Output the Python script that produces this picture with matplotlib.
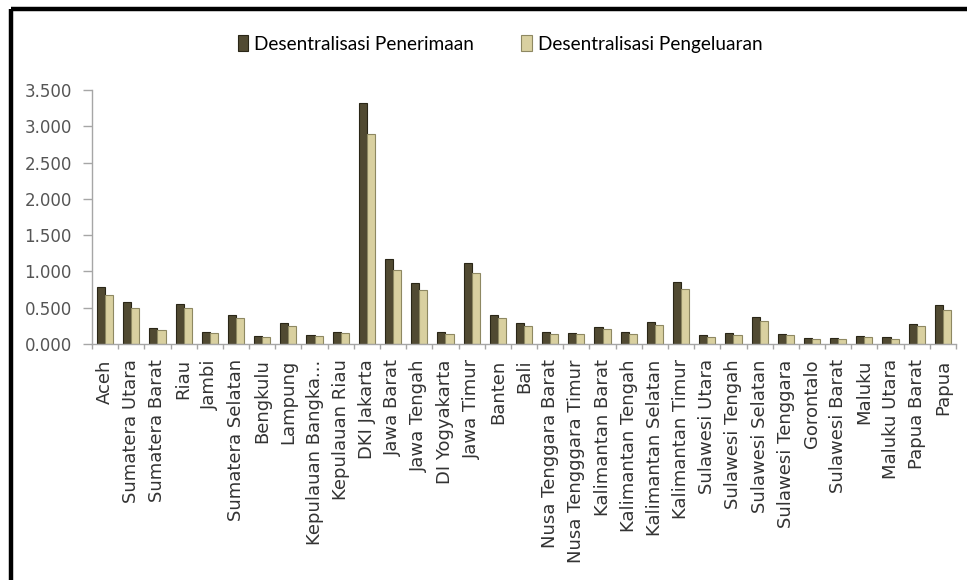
import numpy as np
import matplotlib.pyplot as plt
from matplotlib.lines import Line2D
from matplotlib.patches import Patch

# Data (values in thousands, shown as 0.000 .. 3.500)
provinces = [
    "Aceh", "Sumatera Utara", "Sumatera Barat", "Riau", "Jambi",
    "Sumatera Selatan", "Bengkulu", "Lampung", "Kepulauan Bangka...",
    "Kepulauan Riau", "DKI Jakarta", "Jawa Barat", "Jawa Tengah",
    "DI Yogyakarta", "Jawa Timur", "Banten", "Bali", "Nusa Tenggara Barat",
    "Nusa Tengggara Timur", "Kalimantan Barat", "Kalimantan Tengah",
    "Kalimantan Selatan", "Kalimantan Timur", "Sulawesi Utara",
    "Sulawesi Tengah", "Sulawesi Selatan", "Sulawesi Tenggara", "Gorontalo",
    "Sulawesi Barat", "Maluku", "Maluku Utara", "Papua Barat", "Papua",
]

penerimaan = [
    0.781, 0.583, 0.225, 0.551, 0.170, 0.400, 0.106, 0.294, 0.124, 0.170,
    3.325, 1.167, 0.845, 0.170, 1.120, 0.400, 0.294, 0.170, 0.156, 0.230,
    0.170, 0.307, 0.860, 0.124, 0.147, 0.368, 0.142, 0.078, 0.078, 0.110,
    0.100, 0.276, 0.533,
]

pengeluaran = [
    0.675, 0.500, 0.195, 0.490, 0.156, 0.354, 0.096, 0.248, 0.110, 0.156,
    2.900, 1.020, 0.744, 0.138, 0.974, 0.354, 0.248, 0.138, 0.142, 0.200,
    0.138, 0.255, 0.753, 0.100, 0.124, 0.320, 0.124, 0.064, 0.064, 0.096,
    0.073, 0.248, 0.468,
]

y_ticks = [0.0, 0.5, 1.0, 1.5, 2.0, 2.5, 3.0, 3.5]
series_names = ["Desentralisasi Penerimaan", "Desentralisasi Pengeluaran"]

DARK = "#514a32"
DARK_EDGE = "#2a2617"
LIGHT = "#d9d0a0"
LIGHT_EDGE = "#8e8862"
AXIS_GRAY = "#a6a6a6"

plt.rcParams["font.family"] = ["DejaVu Sans"]


def main():
    W, H = 967, 580
    fig = plt.figure(figsize=(W / 100, H / 100), dpi=100)
    fig.patch.set_facecolor("white")

    left, right = 92 / W, 956 / W
    bottom, top = 1 - 344 / H, 1 - 90 / H
    ax = fig.add_axes([left, bottom, right - left, top - bottom])

    x = np.arange(len(provinces))
    width = 0.31
    ax.bar(x - width / 2, penerimaan, width, color=DARK,
           edgecolor=DARK_EDGE, linewidth=0.8)
    ax.bar(x + width / 2, pengeluaran, width, color=LIGHT,
           edgecolor=LIGHT_EDGE, linewidth=0.8)

    ax.set_xlim(-0.5, len(provinces) - 0.5)
    ax.set_ylim(0, 3.5)

    ax.set_yticks(y_ticks)
    ax.set_yticklabels([f"{v:.3f}" for v in y_ticks])
    ax.tick_params(axis="y", length=6.5, width=1, color=AXIS_GRAY,
                   labelsize=12, labelcolor="#555555", pad=8)

    ax.set_xticks(x)
    ax.set_xticklabels(provinces, rotation=90, fontsize=13, color="#333333")
    ax.tick_params(axis="x", which="major", length=0, pad=11)
    ax.set_xticks(np.arange(-0.5, len(provinces)), minor=True)
    ax.tick_params(axis="x", which="minor", length=3.6, width=1,
                   color=AXIS_GRAY)

    for side in ["top", "right"]:
        ax.spines[side].set_visible(False)
    for side in ["left", "bottom"]:
        ax.spines[side].set_color(AXIS_GRAY)
        ax.spines[side].set_linewidth(1)

    handles = [
        Patch(facecolor=DARK, edgecolor=DARK_EDGE, linewidth=0.8),
        Patch(facecolor=LIGHT, edgecolor=LIGHT_EDGE, linewidth=0.8),
    ]
    fig.legend(handles, series_names, loc="center",
               bbox_to_anchor=(500 / W, 1 - 44 / H), ncol=2, frameon=False,
               handlelength=0.55, handleheight=0.85, handletextpad=0.3,
               columnspacing=2.5,
               prop={"family": ["Lato", "DejaVu Sans"], "size": 13.7})

    # picture frame: thick black line on top and left
    fig.add_artist(Line2D([10.5 / W, 1], [1 - 9 / H, 1 - 9 / H],
                          transform=fig.transFigure, color="black", lw=3.2,
                          solid_capstyle="butt"))
    fig.add_artist(Line2D([10.5 / W, 10.5 / W], [0, 1 - 9 / H],
                          transform=fig.transFigure, color="black", lw=3.2,
                          solid_capstyle="butt"))

    fig.savefig("out.png", dpi=100, facecolor="white")


if __name__ == "__main__":
    main()
